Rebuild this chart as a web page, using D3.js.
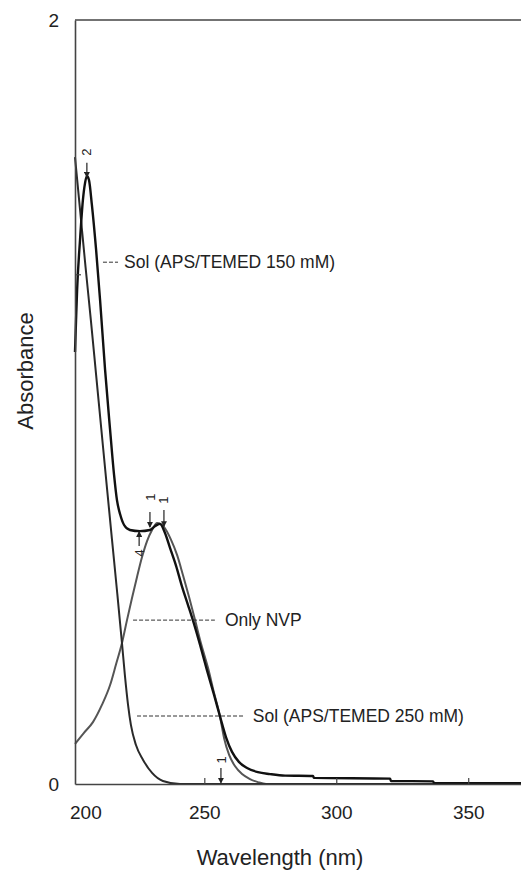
<!DOCTYPE html>
<html>
<head>
<meta charset="utf-8">
<script src="https://cdn.jsdelivr.net/npm/d3@7"></script>
<style>
  body { margin: 0; background: #fff; }
  text { font-family: "Liberation Sans", Arial, sans-serif; fill: #222; }
</style>
</head>
<body>
<svg></svg>
<script>
let width = 521
let height = 872

// wavelength (nm) / absorbance
let solHighWl = [201.0, 203.0, 205.0, 207.0, 209.0, 211.0, 213.0, 215.0, 217.0, 218.8, 219.9, 221.1, 222.2, 224.1, 226.8, 230.2, 234.3, 240.8, 300, 370]
let solHighAbs = [1.641, 1.497, 1.353, 1.215, 1.071, 0.927, 0.783, 0.641, 0.500, 0.369, 0.285, 0.207, 0.154, 0.102, 0.063, 0.029, 0.008, 0.0, 0.0, 0.0]

let solLowWl = [201.0, 201.4, 201.8, 202.9, 204.0, 204.8, 205.5, 206.3, 207.4, 209.0, 210.5, 212.4, 214.3, 215.8, 216.9, 218.1, 219.6, 221.8, 225.6, 229.4, 231.3, 233.2, 235.1, 237.0, 239.3, 241.5, 243.8, 246.1, 248.4, 251.0, 253.7, 255.9, 258.2, 260.5, 263.1, 266.2, 270.3, 274.9, 280.6, 291.2, 291.5, 320.4, 320.7, 336.7, 337.0, 370]
let solLowAbs = [1.131, 1.215, 1.293, 1.424, 1.529, 1.573, 1.592, 1.581, 1.516, 1.398, 1.267, 1.084, 0.927, 0.809, 0.743, 0.706, 0.678, 0.665, 0.662, 0.665, 0.675, 0.681, 0.657, 0.618, 0.571, 0.518, 0.469, 0.419, 0.364, 0.298, 0.233, 0.178, 0.123, 0.084, 0.058, 0.042, 0.031, 0.026, 0.022, 0.021, 0.016, 0.014, 0.008, 0.007, 0.003, 0.002]

let nvpWl = [201.0, 204.4, 207.8, 211.2, 214.3, 216.5, 218.8, 220.7, 222.6, 224.5, 226.4, 228.3, 230.2, 232.1, 234.7, 237.4, 239.7, 241.9, 244.2, 246.5, 248.7, 251.4, 253.7, 255.9, 257.5, 259.4, 261.6, 264.3, 267.3, 270.3, 273.4, 278.7, 370]
let nvpAbs = [0.105, 0.134, 0.162, 0.207, 0.259, 0.312, 0.369, 0.429, 0.487, 0.542, 0.594, 0.636, 0.665, 0.683, 0.673, 0.639, 0.599, 0.547, 0.490, 0.429, 0.369, 0.304, 0.238, 0.178, 0.120, 0.076, 0.047, 0.026, 0.013, 0.005, 0.0, 0.0, 0.0]

let xTicks = [200, 250, 300, 350]
let yTicks = [0, 2]
let yMinorTicks = [1.333]

let annoLabels = ['Sol (APS/TEMED 150 mM)', 'Only NVP', 'Sol (APS/TEMED 250 mM)']
let annoAbs = [1.366, 0.429, 0.178]
let annoFrom = [211.6, 223.0, 224.5]
let annoTo = [217.3, 254.0, 265.4]
let annoTextWl = [219.6, 257.8, 268.4]

let peakLabels = ['2', '1', '1', '4', '1']
let peakWl = [205.5, 229.4, 234.7, 225.3, 256.3]
let peakTextAbs = [1.654, 0.751, 0.743, 0.605, 0.063]
let arrowFrom = [1.626, 0.712, 0.717, 0.623, 0.042]
let arrowTo = [1.589, 0.673, 0.675, 0.660, 0.003]

let svg = d3.select('svg')
svg.attr('width', width).attr('height', height)

let xScale = d3.scaleLinear().domain([201, 370]).range([75, 521])
let yScale = d3.scaleLinear().domain([0, 2]).range([784, 20])

let line = d3.line()
    .x(d => xScale(d[0]))
    .y(d => yScale(d[1]))
    .curve(d3.curveMonotoneX)

let series = [
    {wl: nvpWl, abs: nvpAbs, color: '#555', w: 2},
    {wl: solHighWl, abs: solHighAbs, color: '#2a2a2a', w: 2},
    {wl: solLowWl, abs: solLowAbs, color: '#111', w: 2.4}
]

series.forEach(s => {
    svg.append('path')
        .datum(s.wl.map((w, i) => [w, s.abs[i]]))
        .attr('d', line)
        .attr('fill', 'none')
        .attr('stroke', s.color)
        .attr('stroke-width', s.w)
})

// axes
let xAxis = d3.axisBottom(xScale)
    .tickValues(xTicks)
    .tickSizeInner(-6)
    .tickSizeOuter(0)
    .tickPadding(22)
let gx = svg.append('g')
    .attr('transform', 'translate(0,' + yScale(0) + ')')
    .call(xAxis)
gx.selectAll('text').style('font-size', '19px').attr('fill', '#222')
gx.selectAll('.tick').filter(d => d == 200).select('line').remove()
gx.selectAll('.tick').filter(d => d == 200).select('text').attr('dx', 13)

let yAxis = d3.axisLeft(yScale)
    .tickValues(yTicks)
    .tickFormat(d3.format('d'))
    .tickSize(0)
    .tickPadding(16)
let gy = svg.append('g')
    .attr('transform', 'translate(' + xScale(201) + ',0)')
    .call(yAxis)
gy.selectAll('text').style('font-size', '19px').attr('fill', '#222')

svg.selectAll('.domain').attr('stroke', '#444').attr('stroke-width', 1.6)
svg.selectAll('.tick line').attr('stroke', '#444').attr('stroke-width', 1.2)

svg.selectAll('.minor')
    .data(yMinorTicks)
    .enter()
    .append('line')
    .attr('x1', xScale(201))
    .attr('x2', xScale(201) + 6)
    .attr('y1', d => yScale(d))
    .attr('y2', d => yScale(d))
    .attr('stroke', '#444')
    .attr('stroke-width', 1.2)

// top frame line
svg.append('line')
    .attr('x1', xScale(201))
    .attr('x2', xScale(370))
    .attr('y1', yScale(2))
    .attr('y2', yScale(2))
    .attr('stroke', '#444')
    .attr('stroke-width', 1.6)

// titles
svg.append('text')
    .attr('x', 280)
    .attr('y', 865)
    .attr('text-anchor', 'middle')
    .style('font-size', '22px')
    .text('Wavelength (nm)')

svg.append('text')
    .attr('transform', 'translate(33,371) rotate(-90)')
    .attr('text-anchor', 'middle')
    .style('font-size', '22px')
    .text('Absorbance')

// dashed leader lines with labels
annoLabels.forEach((label, i) => {
    svg.append('line')
        .attr('x1', xScale(annoFrom[i]))
        .attr('x2', xScale(annoTo[i]))
        .attr('y1', yScale(annoAbs[i]))
        .attr('y2', yScale(annoAbs[i]))
        .attr('stroke', '#333')
        .attr('stroke-width', 1)
        .attr('stroke-dasharray', '4,2')
    svg.append('text')
        .attr('x', xScale(annoTextWl[i]))
        .attr('y', yScale(annoAbs[i]))
        .attr('dy', '0.35em')
        .style('font-size', '17.5px')
        .text(label)
})

// small peak arrows
svg.append('defs').append('marker')
    .attr('id', 'head')
    .attr('viewBox', '0 0 6 6')
    .attr('refX', 5)
    .attr('refY', 3)
    .attr('markerWidth', 5)
    .attr('markerHeight', 5)
    .attr('orient', 'auto')
    .append('path')
    .attr('d', 'M0,0L6,3L0,6Z')
    .attr('fill', '#222')

peakLabels.forEach((label, i) => {
    let x = xScale(peakWl[i])
    svg.append('line')
        .attr('x1', x)
        .attr('x2', x)
        .attr('y1', yScale(arrowFrom[i]))
        .attr('y2', yScale(arrowTo[i]))
        .attr('stroke', '#222')
        .attr('stroke-width', 1.2)
        .attr('marker-end', 'url(#head)')
    svg.append('text')
        .attr('transform', 'translate(' + x + ',' + yScale(peakTextAbs[i]) + ') rotate(-90)')
        .attr('text-anchor', 'middle')
        .attr('dy', '0.35em')
        .style('font-size', '13px')
        .text(label)
})
</script>
</body>
</html>
